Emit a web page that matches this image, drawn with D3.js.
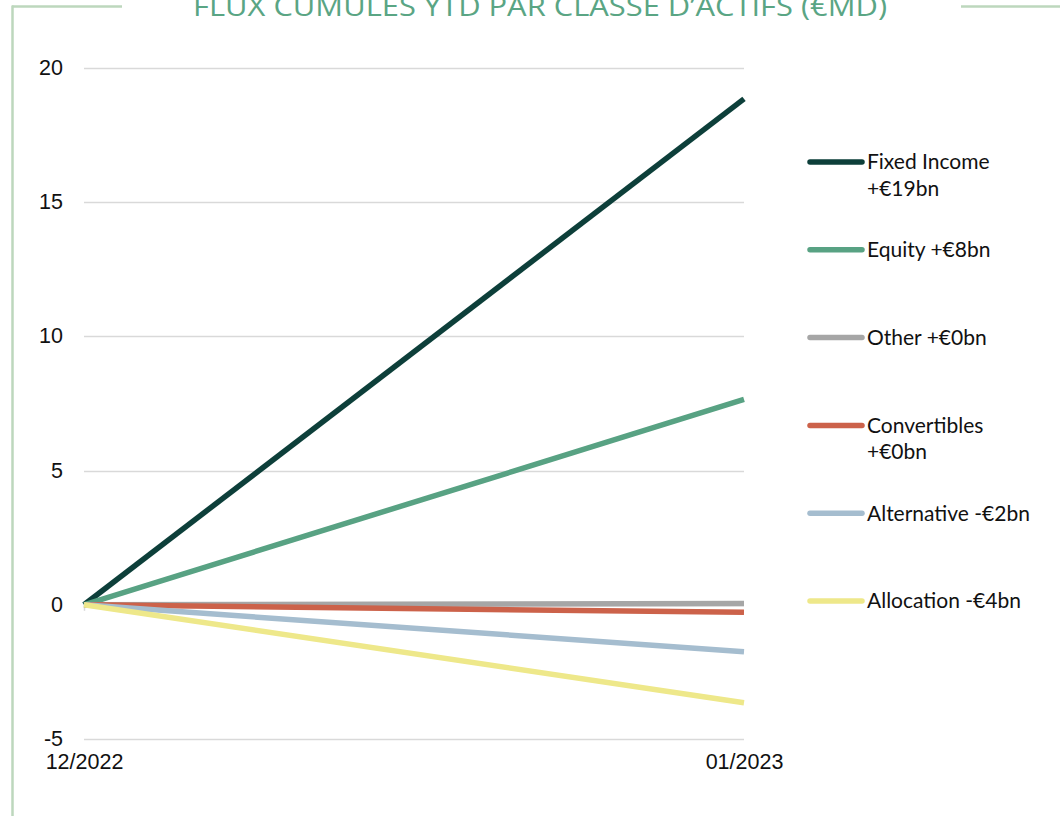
<!DOCTYPE html>
<html>
<head>
<meta charset="utf-8">
<script src="https://cdn.jsdelivr.net/npm/d3@7"></script>
<style>
  html, body { margin: 0; padding: 0; background: #ffffff; }
  svg { display: block; }
</style>
</head>
<body>
<svg id="chart" width="1060" height="816"></svg>
<script>
// Cumulative YTD flows by asset class (€bn)
const periods = ["12/2022", "01/2023"];
const seriesNames = ["Fixed Income", "Equity", "Other", "Convertibles", "Alternative", "Allocation"];
const legendLabels = [
  ["Fixed Income", "+€19bn"],
  ["Equity +€8bn"],
  ["Other +€0bn"],
  ["Convertibles", "+€0bn"],
  ["Alternative -€2bn"],
  ["Allocation -€4bn"]
];
const fixedIncome = [0, 18.85];
const equity = [0, 7.65];
const other = [0, 0.05];
const convertibles = [0, -0.28];
const alternative = [0, -1.75];
const allocation = [0, -3.65];
const seriesColors = ["#0d3f3a", "#58a283", "#a6a6a6", "#cc624a", "#a5bdcf", "#eee88a"];
const yTicks = [-5, 0, 5, 10, 15, 20];
const titleText = "FLUX CUMULÉS YTD PAR CLASSE D’ACTIFS (€MD)";

const seriesValues = [fixedIncome, equity, other, convertibles, alternative, allocation];
const series = seriesNames.map((name, i) => ({
  name,
  color: seriesColors[i],
  label: legendLabels[i],
  values: seriesValues[i].map((v, j) => ({ period: periods[j], value: v }))
}));

const svg = d3.select("#chart");

// Decorative frame
const frame = "#bdd7bd";
svg.append("line").attr("x1", 12).attr("x2", 122).attr("y1", 6.5).attr("y2", 6.5)
  .attr("stroke", frame).attr("stroke-width", 2.5);
svg.append("line").attr("x1", 961).attr("x2", 1060).attr("y1", 6.5).attr("y2", 6.5)
  .attr("stroke", frame).attr("stroke-width", 2.5);
svg.append("line").attr("x1", 12.5).attr("x2", 12.5).attr("y1", 5.5).attr("y2", 816)
  .attr("stroke", frame).attr("stroke-width", 2.5);

// Title
svg.append("text")
  .attr("x", 540).attr("y", 16)
  .attr("text-anchor", "middle")
  .attr("font-family", "'Open Sans', sans-serif")
  .attr("font-weight", 400)
  .attr("font-size", 27)
  .attr("fill", "#5aa584")
  .attr("textLength", 694)
  .attr("lengthAdjust", "spacingAndGlyphs")
  .text(titleText);

// Scales
const x = d3.scalePoint().domain(periods).range([84, 744]);
const y = d3.scaleLinear().domain([-5, 20]).range([739, 68]);

// Gridlines
svg.append("g")
  .selectAll("line")
  .data(yTicks)
  .join("line")
  .attr("x1", 84).attr("x2", 744)
  .attr("y1", d => Math.round(y(d)) + 0.5)
  .attr("y2", d => Math.round(y(d)) + 0.5)
  .attr("stroke", "#d9d9d9")
  .attr("stroke-width", 1.5);

// Small tick at the origin
svg.append("line")
  .attr("x1", 84.5).attr("x2", 84.5)
  .attr("y1", y(0)).attr("y2", y(0) + 6)
  .attr("stroke", "#d9d9d9").attr("stroke-width", 1.5);

// Y axis labels (plain hyphen for negatives)
const yAxis = d3.axisLeft(y).tickValues(yTicks).tickSize(0).tickPadding(0)
  .tickFormat(d => String(d));
const yg = svg.append("g").attr("transform", "translate(63,0)").call(yAxis);
yg.select(".domain").remove();
yg.selectAll("text")
  .attr("font-family", "'Liberation Sans', Arial, sans-serif")
  .attr("font-size", 21.5)
  .attr("fill", "#111")
  .attr("dy", "0.3em");

// X axis labels
const xAxis = d3.axisBottom(x).tickSize(0).tickPadding(0);
const xg = svg.append("g").attr("transform", "translate(0,754)").call(xAxis);
xg.select(".domain").remove();
xg.selectAll("text")
  .attr("font-family", "'Liberation Sans', Arial, sans-serif")
  .attr("font-size", 21.5)
  .attr("fill", "#111")
  .attr("dy", "0.71em");

// Series lines
const line = d3.line().x(d => x(d.period)).y(d => y(d.value));
svg.append("g")
  .selectAll("path")
  .data(series)
  .join("path")
  .attr("d", d => line(d.values))
  .attr("fill", "none")
  .attr("stroke", d => d.color)
  .attr("stroke-width", 5.5)
  .attr("stroke-linecap", "butt")
  .attr("stroke-linejoin", "round");

// Legend
const legendY = d3.scalePoint().domain(seriesNames).range([162, 601]);
const lg = svg.append("g")
  .selectAll("g")
  .data(series)
  .join("g")
  .attr("transform", d => `translate(0,${legendY(d.name)})`);
lg.append("line")
  .attr("x1", 810).attr("x2", 862)
  .attr("y1", 0).attr("y2", 0)
  .attr("stroke", d => d.color)
  .attr("stroke-width", 5.5)
  .attr("stroke-linecap", "round");
lg.append("text")
  .attr("x", 867)
  .attr("y", 0)
  .attr("font-family", "Lato, sans-serif")
  .attr("font-size", 21)
  .attr("fill", "#111")
  .selectAll("tspan")
  .data(d => d.label)
  .join("tspan")
  .attr("x", 867)
  .attr("dy", (d, i) => i === 0 ? "0.35em" : "1.25em")
  .text(d => d);
</script>
</body>
</html>
